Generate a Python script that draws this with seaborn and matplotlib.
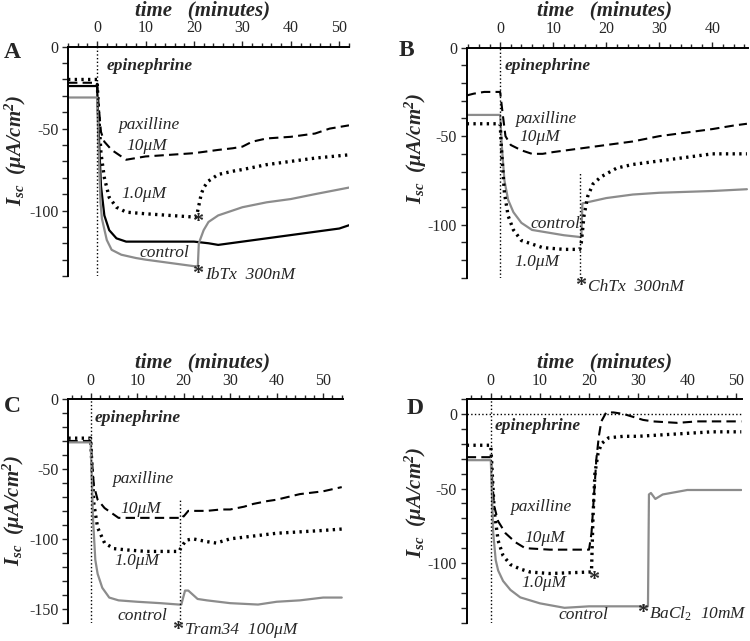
import numpy as np
import pandas as pd
import matplotlib
matplotlib.use('Agg')
import matplotlib.pyplot as plt
from matplotlib.ticker import MultipleLocator
import seaborn as sns

sns.set_style('ticks')
plt.rcParams['font.family'] = ['Liberation Serif', 'DejaVu Serif']
plt.rcParams['axes.unicode_minus'] = False
plt.rcParams['mathtext.fontset'] = 'custom'
plt.rcParams['mathtext.rm'] = 'Liberation Serif'
plt.rcParams['mathtext.it'] = 'Liberation Serif:italic'
plt.rcParams['mathtext.bf'] = 'Liberation Serif:bold:italic'

# ---- panel A (IbTx) ----
a_dash_t = [-6, 0, 0.3, 0.8, 1.5, 3, 6, 10, 15, 20, 25, 28, 30, 32, 35, 40, 45, 48, 52]
a_dash_v = [-22, -22, -35, -52, -58, -63, -69, -67, -66, -65, -63, -62, -61, -58, -56, -55, -53, -50, -48]
a_dot_t = [-6, 0, 0.3, 0.8, 1.5, 2.5, 4, 6, 10, 15, 20, 20.5, 21, 21.5, 22, 23, 25, 28, 30, 35, 40, 45, 52]
a_dot_v = [-20, -20, -40, -65, -80, -92, -98, -101, -102, -103, -104, -104, -97, -90, -86, -82, -78, -76, -75, -72, -70, -68, -66]
a_blk_t = [-6, 0, 0.3, 0.8, 1.5, 2.5, 4, 6, 8, 15, 20, 23, 25, 30, 35, 40, 45, 50, 52]
a_blk_v = [-24, -24, -50, -85, -103, -112, -117, -119, -119, -119, -119, -120, -121, -119, -117, -115, -113, -111, -109]
a_ctl_t = [-6, 0, 0.3, 0.7, 1, 2, 3, 5, 8, 10, 15, 20, 20.8, 21, 22, 23, 25, 30, 35, 40, 45, 52]
a_ctl_v = [-31, -31, -60, -95, -105, -118, -124, -127, -129, -130, -132, -134, -134, -120, -112, -107, -103, -98, -95, -93, -90, -86]

# ---- panel B (ChTx) ----
b_dash_t = [-6.3, -5, -3, 0, 0.5, 1, 2, 4, 6, 8, 10, 15, 20, 25, 30, 35, 40, 44, 46.5]
b_dash_v = [-27, -26, -25, -25, -38, -50, -55, -58, -60, -60, -59, -57, -55, -53, -50, -48, -46, -44, -43]
b_ctl_t = [-6.3, 0, 0.3, 0.8, 1.5, 2.5, 4, 6, 8, 12, 15, 15.3, 15.5, 17, 20, 25, 30, 40, 46.5]
b_ctl_v = [-38, -38, -55, -75, -86, -93, -99, -103, -104, -106, -107, -107, -88, -87, -85, -83, -82, -81, -80]
b_dot_t = [-6.3, 0, 0.3, 0.8, 1.5, 2.5, 4, 6, 8, 12, 15, 15.3, 15.8, 16.5, 17.5, 19, 22, 25, 30, 35, 40, 46.5]
b_dot_v = [-43, -43, -60, -82, -95, -103, -109, -111, -113, -114, -114, -110, -95, -84, -77, -73, -68, -66, -64, -62, -60, -60]

# ---- panel C (Tram34) ----
c_dash_t = [-4.8, 0, 0.3, 0.7, 1.5, 3, 6, 10, 15, 19, 19.5, 20, 21, 25, 28, 30, 33, 35, 38, 40, 45, 50, 54]
c_dash_v = [-30, -30, -45, -62, -72, -78, -85, -85, -85, -85, -83, -84, -80, -80, -79, -79, -77, -75, -73, -72, -68, -66, -63]
c_dot_t = [-4.8, 0, 0.3, 0.7, 1.5, 3, 5, 8, 12, 19, 19.5, 20.5, 22, 25, 27, 30, 35, 40, 45, 50, 54]
c_dot_v = [-28, -28, -50, -75, -92, -103, -107, -108, -109, -109, -106, -101, -100, -102, -103, -100, -98, -96, -95, -94, -93]
c_ctl_t = [-4.8, 0, 0.2, 0.5, 1, 1.5, 2.5, 4, 6, 10, 15, 19, 19.5, 20.3, 21, 22, 23, 25, 30, 36, 40, 45, 50, 54]
c_ctl_v = [-31, -31, -50, -85, -115, -125, -135, -142, -144, -145, -146, -147, -147, -137, -137, -140, -143, -144, -146, -147, -145, -144, -142, -142]

# ---- panel D (BaCl2) ----
d_dot_t = [-4.9, 0, 0.3, 0.7, 1.5, 2.5, 4, 6, 8, 12, 20, 20.5, 20.8, 21.2, 21.8, 22.5, 24, 27, 30, 35, 40, 45, 51]
d_dot_v = [-21, -21, -40, -65, -85, -95, -101, -104, -106, -107, -106, -106, -70, -40, -27, -20, -16, -15, -15, -14, -13, -12, -12]
d_dash_t = [-4.9, 0, 0.3, 0.7, 1.5, 3, 5, 7, 12, 20, 20.5, 21, 21.5, 22, 22.5, 23.5, 25, 27, 29, 31, 33, 38, 42, 51]
d_dash_v = [-29, -29, -45, -62, -72, -80, -86, -90, -91, -91, -80, -55, -30, -15, -5, 1, 1, 0, -2, -4, -5, -6, -5, -5]
d_ctl_t = [-4.9, 0, 0.2, 0.5, 1, 1.5, 2.5, 4, 6, 10, 15, 20, 25, 32, 32.2, 32.6, 33.5, 35, 40, 45, 51]
d_ctl_v = [-31, -31, -50, -80, -98, -105, -112, -118, -123, -127, -130, -129, -129, -129, -54, -53, -57, -54, -51, -51, -51]

GRAY = '#8c8c8c'
STYLES = {
    'dash': dict(color='black', lw=1.5, ls=(0, (4.5, 2.5))),
    'dot': dict(color='black', lw=2.4, ls=(0, (0.7, 1.3))),
    'black': dict(color='black', lw=1.6, ls='-'),
    'ctl': dict(color=GRAY, lw=1.6, ls='-'),
}


def draw(ax, series):
    for kind, t, v in series:
        df = pd.DataFrame({'t': t, 'v': v})
        st = STYLES[kind]
        sns.lineplot(data=df, x='t', y='v', ax=ax, estimator=None, sort=False,
                     color=st['color'], lw=st['lw'], linestyle=st['ls'])


def style_axes(ax, xlim, ylim, xticks, yticks):
    ax.set_xlim(*xlim)
    ax.set_ylim(*ylim)
    ax.xaxis.tick_top()
    ax.set_xticks(xticks)
    ax.set_yticks(yticks)
    ax.xaxis.set_minor_locator(MultipleLocator(2))
    ax.yaxis.set_minor_locator(MultipleLocator(10))
    for s in ['bottom', 'right']:
        ax.spines[s].set_visible(False)
    for s in ['top', 'left']:
        ax.spines[s].set_linewidth(1.4)
        ax.spines[s].set_color('black')
    ax.tick_params(axis='x', which='major', direction='out', length=4.5, width=1,
                   labelsize=11.5, pad=3, top=True, bottom=False)
    ax.tick_params(axis='x', which='minor', direction='out', length=3, width=1,
                   top=True, bottom=False)
    ax.tick_params(axis='y', which='both', direction='out', length=4, width=1,
                   labelsize=11.5, pad=3)
    ax.set_xlabel('')
    ax.set_ylabel('')
    ax.axvline(0, color='black', ls=':', lw=1)


fig = plt.figure(figsize=(7.5, 6.41), dpi=100)
axA = fig.add_axes([0.0907, 0.5694, 0.3746, 0.3577])
axB = fig.add_axes([0.6223, 0.5668, 0.3750, 0.3588])
axC = fig.add_axes([0.0911, 0.0285, 0.3658, 0.3490])
axD = fig.add_axes([0.6223, 0.0285, 0.3674, 0.3490])

draw(axA, [('dash', a_dash_t, a_dash_v), ('dot', a_dot_t, a_dot_v),
           ('black', a_blk_t, a_blk_v), ('ctl', a_ctl_t, a_ctl_v)])
style_axes(axA, (-6, 52), (-140, 0), [0, 10, 20, 30, 40, 50], [0, -50, -100])

draw(axB, [('dash', b_dash_t, b_dash_v), ('ctl', b_ctl_t, b_ctl_v),
           ('dot', b_dot_t, b_dot_v)])
style_axes(axB, (-6.3, 46.7), (-130, 0), [0, 10, 20, 30, 40], [0, -50, -100])
axB.vlines(15.1, -130, -70, color='black', ls=':', lw=1)

draw(axC, [('dash', c_dash_t, c_dash_v), ('dot', c_dot_t, c_dot_v),
           ('ctl', c_ctl_t, c_ctl_v)])
style_axes(axC, (-4.8, 54.2), (-160, 0), [0, 10, 20, 30, 40, 50], [0, -50, -100, -150])
axC.vlines(19.2, -160, -71, color='black', ls=':', lw=1)

draw(axD, [('dot', d_dot_t, d_dot_v), ('dash', d_dash_t, d_dash_v),
           ('ctl', d_ctl_t, d_ctl_v)])
style_axes(axD, (-4.9, 51.2), (-140, 10), [0, 10, 20, 30, 40, 50], [0, -50, -100])
axD.axhline(0, color='black', ls=':', lw=1)

lab = dict(fontsize=12.5, style='italic', va='center', ha='left')
epi = dict(fontsize=12.5, style='italic', weight='bold', va='center', ha='left')
star = dict(fontsize=16, weight='bold', va='center', ha='left', clip_on=False)

axA.text(2.0, -11.8, 'epinephrine', **epi)
axA.text(4.3, -47.7, 'paxilline', **lab)
axA.text(6.1, -60.5, '10μM', **lab)
axA.text(5.1, -90, '1.0μM', **lab)
axA.text(8.8, -126, 'control', **lab)
axA.text(19.6, -107, '*', **star)
axA.text(19.6, -139, '*', **star)
axA.text(22.3, -139.5, 'IbTx  300nM', clip_on=False, **lab)

axB.text(0.9, -10.4, 'epinephrine', **epi)
axB.text(2.8, -40.5, 'paxilline', **lab)
axB.text(3.6, -50.4, '10μM', **lab)
axB.text(5.65, -99.8, 'control', **lab)
axB.text(2.7, -121, '1.0μM', **lab)
axB.text(14.2, -134.5, '*', **star)
axB.text(16.6, -135, 'ChTx  300nM', clip_on=False, **lab)

axC.text(0.9, -13.4, 'epinephrine', **epi)
axC.text(4.5, -57, 'paxilline', **lab)
axC.text(6.3, -78.5, '10μM', **lab)
axC.text(5.2, -115.7, '1.0μM', **lab)
axC.text(5.7, -155, 'control', **lab)
axC.text(17.5, -165, '*', **star)
axC.text(20.2, -165.5, 'Tram34  100μM', clip_on=False, **lab)

axD.text(0.7, -7.8, 'epinephrine', **epi)
axD.text(3.9, -62.3, 'paxilline', **lab)
axD.text(6.8, -83.3, '10μM', **lab)
axD.text(6.2, -113.3, '1.0μM', **lab)
axD.text(19.8, -111.5, '*', **star)
axD.text(13.7, -134.5, 'control', **lab)
axD.text(29.7, -133.5, '*', **star)
axD.text(32.2, -134, r'BaCl$_2$  10mM', clip_on=False, **lab)

title = dict(fontsize=15, style='italic', weight='bold', ha='center', va='center')
ttl = 'time   (minutes)'
fig.text(203 / 750, 1 - 10 / 641, ttl, **title)
fig.text(605 / 750, 1 - 10 / 641, ttl, **title)
fig.text(203 / 750, 1 - 362 / 641, ttl, **title)
fig.text(605 / 750, 1 - 362 / 641, ttl, **title)

letter = dict(fontsize=17, weight='bold', ha='left', va='center')
fig.text(4 / 750, 1 - 53 / 641, 'A', **letter)
fig.text(399 / 750, 1 - 50 / 641, 'B', **letter)
fig.text(4 / 750, 1 - 407 / 641, 'C', **letter)
fig.text(407 / 750, 1 - 408 / 641, 'D', **letter)

ylab = r'$\mathbf{I_{sc}}$  $\mathbf{(\mu A/cm^2)}$'
ykw = dict(fontsize=15, rotation=90, ha='center', va='center')
fig.text(16 / 750, 1 - 150 / 641, ylab, **ykw)
fig.text(416 / 750, 1 - 148 / 641, ylab, **ykw)
fig.text(14 / 750, 1 - 510 / 641, ylab, **ykw)
fig.text(416 / 750, 1 - 502 / 641, ylab, **ykw)

fig.savefig('out.png', dpi=100)
